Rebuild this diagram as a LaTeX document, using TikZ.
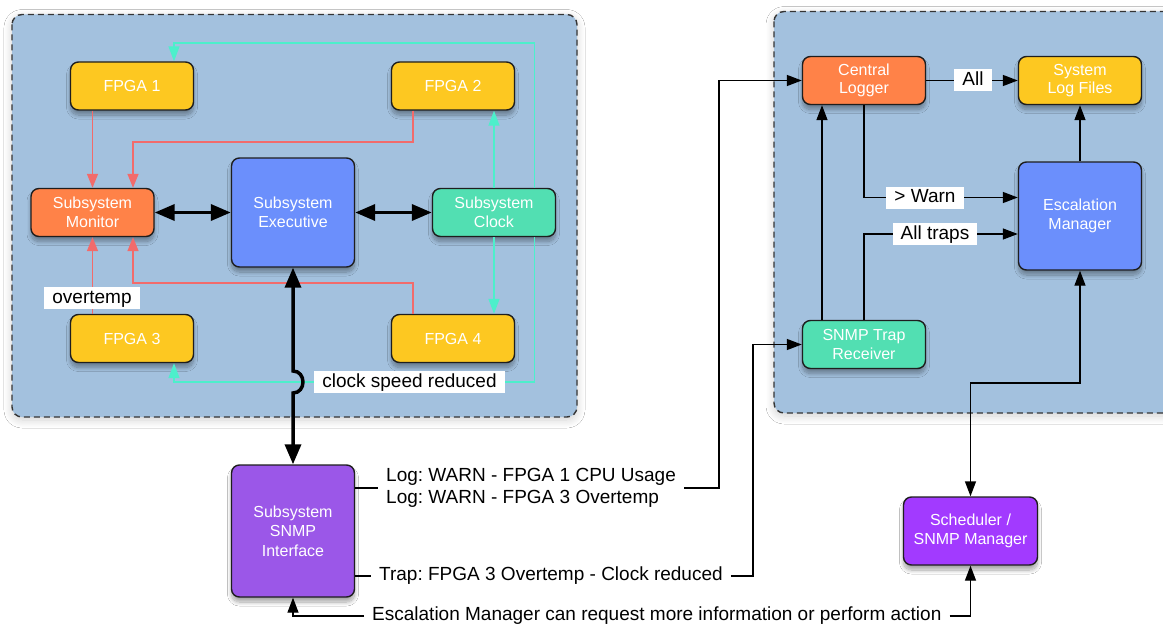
\documentclass[tikz,border=0pt]{standalone}
\usepackage{fontspec}
\setmainfont{Liberation Sans}
\usetikzlibrary{arrows.meta,shadows.blur,calc}
\frenchspacing

\definecolor{panelfill}{HTML}{A3C1DE}
\definecolor{fpgaY}{HTML}{FDC821}
\definecolor{monO}{HTML}{FF8248}
\definecolor{execB}{HTML}{6B8FFC}
\definecolor{clkG}{HTML}{52DFB2}
\definecolor{snmpP}{HTML}{9B57E8}
\definecolor{schedP}{HTML}{A23AFF}
\definecolor{redln}{HTML}{F26B6B}
\definecolor{cyanln}{HTML}{4DEFCB}
\definecolor{edge}{HTML}{1E1E1E}

\begin{document}
\begin{tikzpicture}[x=1pt,y=-1pt,
  panel/.style={draw=edge!90, line width=1.4pt, dash pattern=on 6pt off 4pt,
    fill=panelfill, rounded corners=10pt,
    blur shadow={shadow xshift=0pt, shadow yshift=-3pt, shadow blur radius=8pt,
      shadow blur steps=14, shadow opacity=18}},
  box/.style={draw=edge, line width=1.4pt, rounded corners=8pt,
    minimum width=123pt, minimum height=48pt, inner sep=0pt,
    text=white, align=center, font=\fontsize{16}{18.5}\selectfont,
    blur shadow={shadow xshift=0pt, shadow yshift=-5pt, shadow blur radius=4pt,
      shadow blur steps=12, shadow opacity=35}},
  lbl/.style={fill=white, text=black, font=\fontsize{19}{22}\selectfont,
    inner xsep=8pt, inner ysep=2pt, text height=14pt, text depth=4pt},
  txt/.style={text=black, font=\fontsize{19}{22}\selectfont, inner xsep=8pt, inner ysep=2pt},
  redarr/.style={draw=redln, line width=1.5pt, -{Triangle[length=14pt,width=11pt]}},
  cyanarr/.style={draw=cyanln, line width=1.5pt, -{Triangle[length=15pt,width=11pt]}},
  thinln/.style={draw=black, line width=1.4pt},
  thinarr/.style={draw=black, line width=1.4pt, -{Triangle[length=15pt,width=11pt]}},
  thinboth/.style={draw=black, line width=1.4pt, {Triangle[length=15pt,width=11pt]}-{Triangle[length=15pt,width=11pt]}},
  thickarr/.style={draw=black, line width=3.5pt, {Triangle[length=20pt,width=16pt]}-{Triangle[length=20pt,width=16pt]}},
]
\clip (0,0) rectangle (1163,626);
\fill[white] (0,0) rectangle (1163,626);

% ---------- the two subsystem areas ----------
\draw[panel] (12,14.5) rectangle (577,417);
\draw[panel] (774,11.5) rectangle (1190,413);

% ---------- left subsystem ----------
\node[box, fill=fpgaY] (f1) at (132,86) {FPGA 1};
\node[box, fill=fpgaY] (f2) at (453,86) {FPGA 2};
\node[box, fill=monO] (mon) at (92.5,212.5) {Subsystem\\Monitor};
\node[box, fill=execB, minimum height=109pt] (exec) at (293,212.5) {Subsystem\\Executive};
\node[box, fill=clkG] (clk) at (494,212.5) {Subsystem\\Clock};
\node[box, fill=fpgaY] (f3) at (132,338.5) {FPGA 3};
\node[box, fill=fpgaY] (f4) at (453,338.5) {FPGA 4};

% status reports to the monitor
\coordinate (r2) at (133,142);
\coordinate (r4) at (133,283);
\draw[redarr] (f1.south -| mon.north) -- (mon.north);
\draw[redarr] ($(f2.south)+(-40,0)$) |- (r2) -- (r2 |- mon.north);
\draw[redarr] (f3.north -| mon.south) -- (mon.south);
\draw[redarr] ($(f4.north)+(-40,0)$) |- (r4) -- (r4 |- mon.south);
\node[lbl] (ot) at (92,298) {overtemp};

% clock distribution
\coordinate (c1) at (174,43);
\coordinate (c3) at (174,382);
\draw[cyanarr] (clk.north) -- (clk.north |- f2.south);
\draw[cyanarr] (clk.south) -- (clk.south |- f4.north);
\draw[cyanarr] ($(clk.north)+(40.5,0)$) |- (c1) -- (c1 |- f1.north);
\draw[cyanarr] ($(clk.south)+(40.5,0)$) |- (c3) -- (c3 |- f3.south);
\node[lbl] (csr) at (409.5,382) {clock speed reduced};

% executive links
\draw[thickarr] (mon.east) -- (exec.west);
\draw[thickarr] (exec.east) -- (clk.west);

% ---------- SNMP interface ----------
\node[box, fill=snmpP, minimum height=132pt, font=\fontsize{16}{19.5}\selectfont] (snmpif) at (293,531) {Subsystem\\SNMP\\Interface};
\draw[thickarr] (exec.south) -- (293,371) .. controls (306.3,371) and (306.3,393) .. (293,393) -- (snmpif.north);

% ---------- right subsystem ----------
\node[box, fill=monO] (logger) at (864,80.5) {Central\\Logger};
\node[box, fill=fpgaY] (logs) at (1080,80.5) {System\\Log Files};
\node[box, fill=execB, minimum height=108pt, font=\fontsize{16}{19}\selectfont] (esc) at (1080,216) {Escalation\\Manager};
\node[box, fill=clkG] (trap) at (864,344.5) {SNMP Trap\\Receiver};
\node[box, fill=schedP, minimum width=134pt, minimum height=68pt, font=\fontsize{16}{19.5}\selectfont] (sched) at (970.5,531) {Scheduler /\\SNMP Manager};

\draw[thinarr] (logger.east) -- (logs.west);
\node[lbl] (all) at (973,80.5) {All};
\draw[thinarr] (esc.north) -- (logs.south);

\coordinate (w1) at (864,197.5);
\coordinate (w2) at (864,234);
\draw[thinarr] (logger.south) -- (w1) -- (w1 -| esc.west);
\draw[thinarr] (trap.north) -- (w2) -- (w2 -| esc.west);
\node[lbl] (warn) at (925,197.5) {> Warn};
\node[lbl] (traps) at (935,234) {All traps};
\draw[thinarr] ($(trap.north)+(-42,0)$) -- ($(logger.south)+(-42,0)$);

\coordinate (s1) at (970.5,383);
\draw[thinboth] (sched.north) -- (s1) -| (esc.south);

% ---------- messages between the subsystems ----------
\node[txt, anchor=west, align=left] (loglbl) at (378,488) {Log: WARN - FPGA 1 CPU Usage\\Log: WARN - FPGA 3 Overtemp};
\node[txt, anchor=west] (traplbl) at (371,576) {Trap: FPGA 3 Overtemp - Clock reduced};
\node[txt, anchor=west] (esclbl) at (364,616) {Escalation Manager can request more information or perform action};

\coordinate (lg) at (719,80.5);
\coordinate (tg) at (753,344.5);
\draw[thinln] (snmpif.east |- loglbl.west) -- (loglbl.west);
\draw[thinarr] (loglbl.east) -| (lg) -- (logger.west);
\draw[thinln] (snmpif.east |- traplbl.west) -- (traplbl.west);
\draw[thinarr] (traplbl.east) -| (tg) -- (trap.west);
\draw[thinarr] (esclbl.west) -| (snmpif.south);
\draw[thinarr] (esclbl.east) -| (sched.south);
\end{tikzpicture}
\end{document}
